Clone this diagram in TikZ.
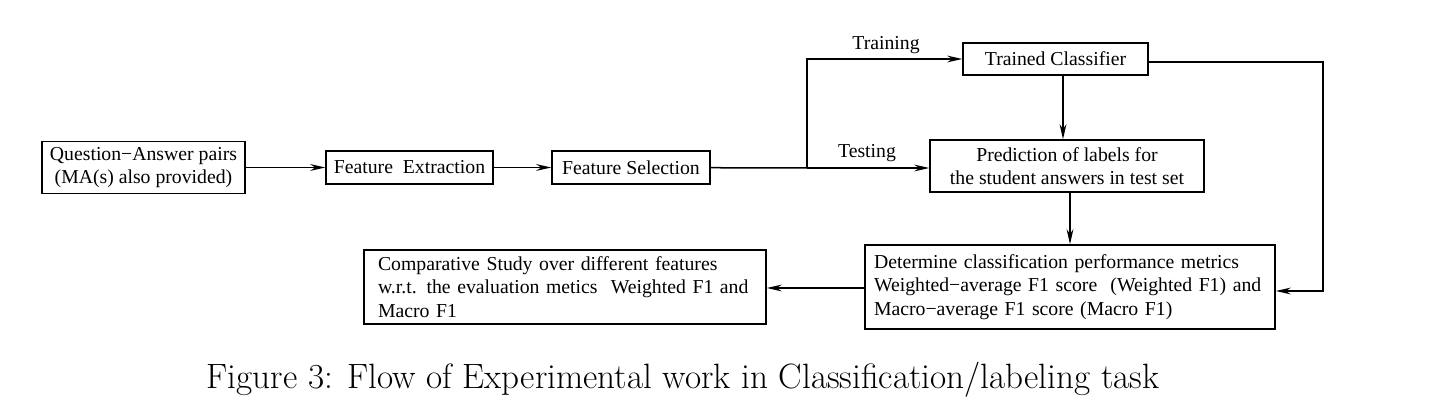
\documentclass[tikz,border=0pt]{standalone}
\usepackage{fontspec}
\usepackage{tikz}
\usetikzlibrary{arrows.meta,positioning}
\newfontfamily\timesfont{Liberation Serif}
\tikzstyle{block}  = [draw, thick, rectangle, inner sep=0pt, font=\timesfont\fontsize{10.5}{12.4}\selectfont]
\tikzstyle{flow}   = [thick, -{Stealth[length=8pt,width=3.6pt]}]
\tikzstyle{tag}    = [font=\timesfont\fontsize{10.5}{12}\selectfont]

\begin{document}
\begin{tikzpicture}[x=0.532pt, y=-0.532pt]
		\useasboundingbox (0,0) rectangle (1448,406);

		% first row
		\node[block, minimum width=203*0.532pt, minimum height=52*0.532pt, align=center] (qa) at (143.5,167.5) {Question−Answer pairs\\(MA(s) also provided)};
		\node[block, minimum width=167*0.532pt, minimum height=33*0.532pt] (fe) at (409.5,167.5) {Feature\ \ Extraction};
		\node[block, minimum width=158*0.532pt, minimum height=33*0.532pt] (fs) at (631,167.5) {Feature Selection};

		% classifier
		\node[block, minimum width=185*0.532pt, minimum height=32*0.532pt] (tc) at (1055.5,59) {Trained Classifier};
		\node[block, minimum width=274*0.532pt, minimum height=52*0.532pt, align=center] (pred) at (1067,166) {Prediction of labels for\\the student answers in test set};

		% results
		\node[block, minimum width=410*0.532pt, minimum height=84*0.532pt, text width=392*0.532pt, align=left] (det) at (1070,287) {Determine classification performance metrics\\Weighted−average F1 score\ \ (Weighted F1) and\\Macro−average F1 score (Macro F1)};
		\node[block, minimum width=402*0.532pt, minimum height=74*0.532pt, text width=374*0.532pt, align=left] (comp) at (565,287) {Comparative Study over different features\\w.r.t. the evaluation metics\ \ Weighted F1 and\\Macro F1};

		\coordinate (split) at (807,168);
		\coordinate (turn) at (1323,62);

		\node[tag] (train) at (886,45) {Training};
		\node[tag] (test) at (867,153) {Testing};

		\draw[flow] (qa) -- (fe);
		\draw[flow] (fe) -- (fs);
		\draw[thick] (fs) -- (split);
		\draw[flow] (split) |- (tc.west);
		\draw[flow] (split) -- (split -| pred.west);
		\draw[flow] (tc.south -| 1063,0) -- (pred.north -| 1063,0);
		\draw[flow] (pred.south -| 1070,0) -- (det.north -| 1070,0);
		\draw[flow] (tc.east |- turn) -- (turn) |- (det.east |- 0,291);
		\draw[flow] (det.west |- 0,288) -- (comp.east |- 0,288);

		\node[font=\fontsize{18.7}{22}\selectfont] (cap) at (683,380) {Figure 3: Flow of Experimental work in Classification/labeling task};
	\end{tikzpicture}
\end{document}
